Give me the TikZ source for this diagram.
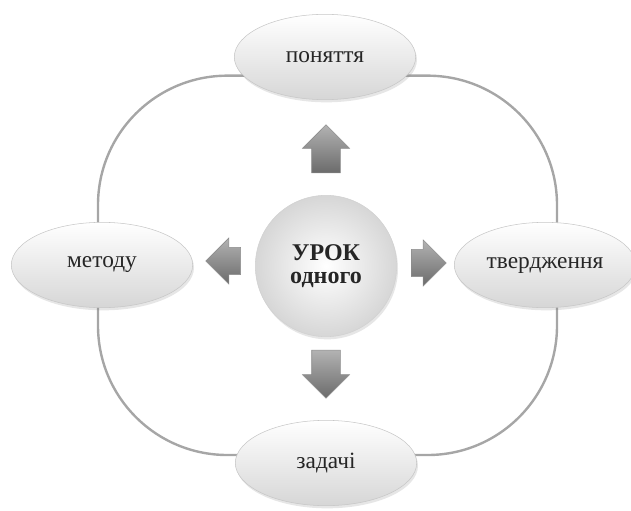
\documentclass[tikz,border=0pt]{standalone}
\usepackage{fontspec}
\setmainfont{Liberation Serif}
\usetikzlibrary{shapes.geometric, shapes.arrows, shadows, backgrounds}

\begin{document}
\begin{tikzpicture}[x=0.75pt, y=-0.75pt, font=\fontsize{17.5}{19}\selectfont,
  topic/.style={ellipse, draw=black!22, text=black!85, minimum width=136pt, minimum height=64pt,
    top color=white, bottom color=black!16, drop shadow={opacity=0.2, shadow xshift=1pt, shadow yshift=-2pt}},
  lesson/.style={circle, draw=black!18, text=black!85, minimum size=106pt, align=center,
    inner color=white, outer color=black!16, drop shadow={opacity=0.2, shadow xshift=1pt, shadow yshift=-2pt},
    font=\fontsize{18}{17}\selectfont\bfseries},
  pointer/.style={single arrow, draw=black!45, top color=black!30, bottom color=black!58,
    single arrow head extend=7pt},
  vpointer/.style={pointer, inner xsep=10.5pt, inner ysep=0pt, minimum height=36pt},
  hpointer/.style={pointer, inner xsep=0pt, inner ysep=10pt, minimum height=26pt},
  ring/.style={draw=black!35, line width=1.8pt, rounded corners=97pt},
]
\useasboundingbox (0,0) rectangle (631,510);

\node[lesson] (urok) at (326, 266) {УРОК\\одного};

\node[topic] (ponyattya) at (325, 57) {поняття};
\node[topic] (metodu) at (102, 265) {методу};
\node[topic] (tverdzhennya) at (545, 265) {твердження};
\node[topic] (zadachi) at (326, 463) {задачі};

\node[vpointer, shape border rotate=90] (toponyattya) at (326, 156) {};
\node[hpointer, shape border rotate=180] (tometodu) at (230, 261) {};
\node[hpointer] (totverdzhennya) at (422, 263) {};
\node[vpointer, shape border rotate=270] (tozadachi) at (326, 367) {};

\begin{scope}[on background layer]
\draw[ring] ([yshift=-14pt]ponyattya.center) -| ([xshift=-3pt]metodu.center);
\draw[ring] ([yshift=-14pt]ponyattya.center) -| ([xshift=9pt]tverdzhennya.center);
\draw[ring] ([yshift=6pt]zadachi.center) -| ([xshift=-3pt]metodu.center);
\draw[ring] ([yshift=6pt]zadachi.center) -| ([xshift=9pt]tverdzhennya.center);
\end{scope}
\end{tikzpicture}
\end{document}
